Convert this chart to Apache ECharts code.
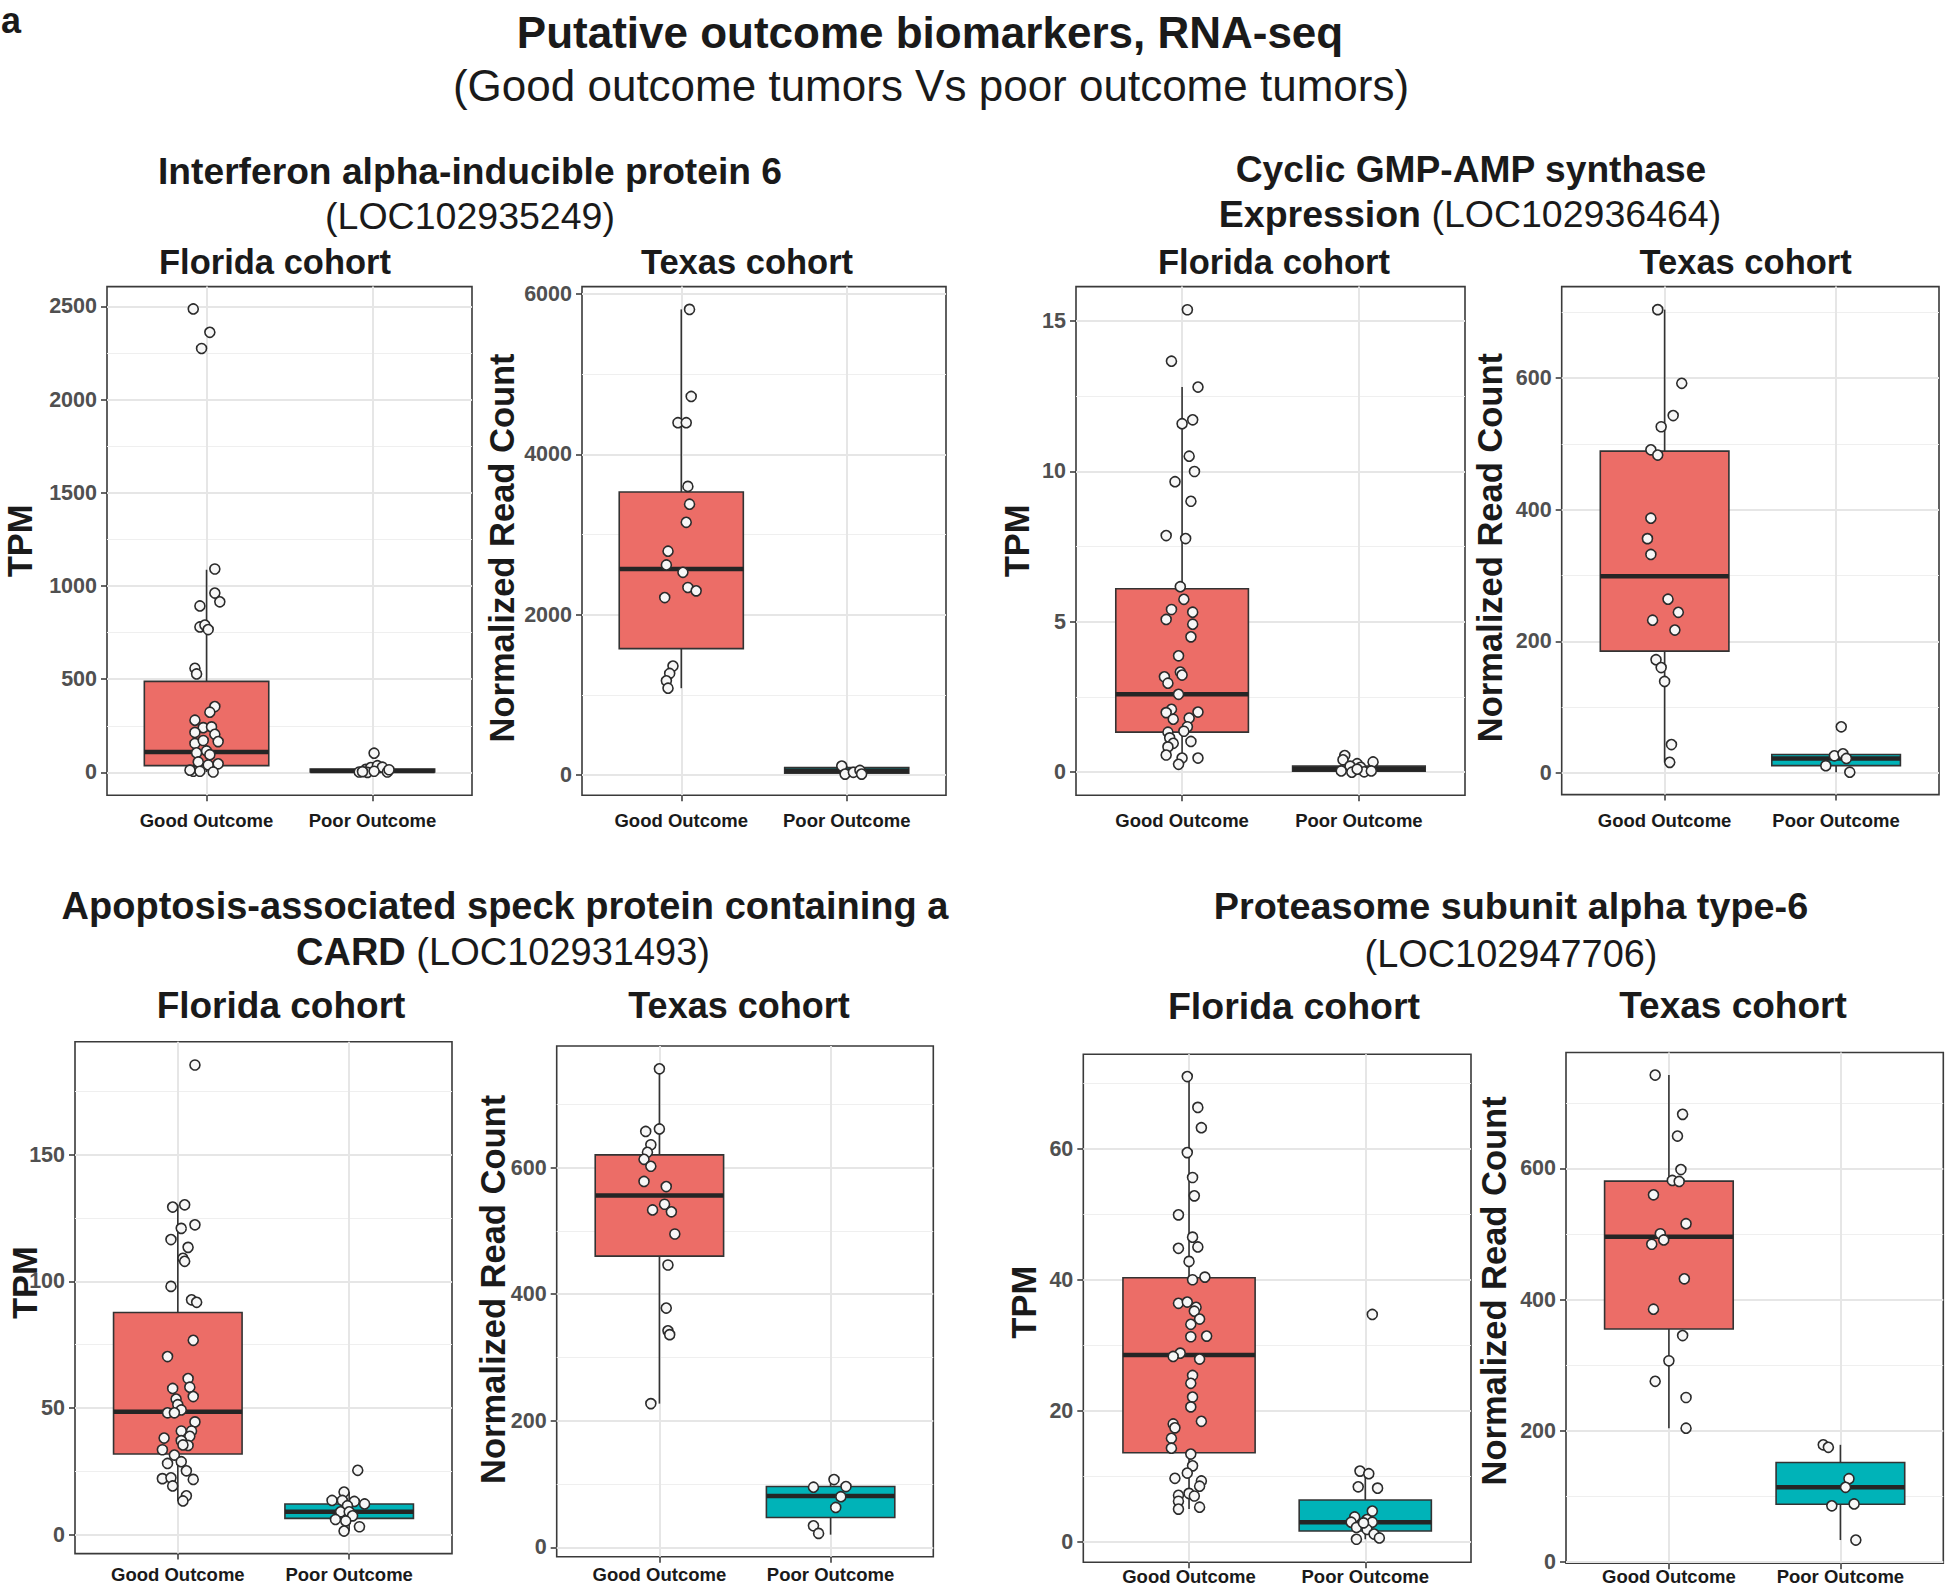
<!DOCTYPE html>
<html>
<head>
<meta charset="utf-8">
<title>Putative outcome biomarkers, RNA-seq</title>
<style>
  html, body { margin: 0; padding: 0; background: #fff; }
  #chart { width: 1946px; height: 1586px; }
</style>
</head>
<body>
<div id="chart"></div>
<script src="https://cdn.jsdelivr.net/npm/echarts@6/dist/echarts.min.js"></script>
<script>
var groups = ['Good Outcome', 'Poor Outcome'];

// Interferon alpha-inducible protein 6 (LOC102935249)
var ifi6FlGood = [[0.92,2486],[1.02,2361],[0.97,2274],[1.05,1091],[1.05,962],[1.08,915],[0.96,893],[0.96,780],[0.99,790],[1.01,766],[0.93,558],[0.94,528],[1.05,353],[1.02,323],[0.93,280],[0.98,240],[1.03,244],[0.93,214],[1.05,204],[1.07,165],[0.93,155],[0.98,171],[0.94,105],[1.00,115],[1.02,95],[0.95,56],[1.01,40],[1.07,46],[0.92,6],[0.96,6],[1.04,2],[0.90,12]];
var ifi6FlPoor = [[2.01,103],[1.96,16],[1.99,26],[2.03,36],[2.06,28],[1.92,2],[1.97,0],[2.09,2],[2.01,6],[2.10,14],[1.94,4]];
var ifi6FlBox = [[2,36,109,488,1087],[0,2,8,18,36]];
var ifi6TxGood = [[1.05,5806],[1.06,4721],[0.98,4394],[1.03,4394],[1.04,3600],[1.05,3378],[1.03,3152],[0.92,2792],[0.91,2621],[1.01,2529],[1.04,2340],[1.09,2298],[0.90,2215],[0.95,1361],[0.93,1269],[0.91,1177],[0.92,1085]];
var ifi6TxPoor = [[1.97,115],[1.99,14],[2.04,37],[2.08,60],[2.09,14]];
var ifi6TxBox = [[1085,1578,2571,3530,5806],[14,25,55,95,115]];

// Cyclic GMP-AMP synthase (LOC102936464)
var cgasFlGood = [[1.03,15.38],[0.94,13.67],[1.09,12.81],[1.06,11.72],[1.00,11.59],[1.04,10.51],[1.07,10.00],[0.96,9.66],[1.05,9.01],[0.91,7.87],[1.02,7.77],[0.99,6.17],[1.01,5.75],[0.94,5.41],[0.91,5.08],[1.06,5.32],[1.06,4.92],[1.05,4.50],[0.98,3.87],[0.99,3.33],[0.90,3.17],[1.00,3.23],[0.92,2.96],[0.98,2.59],[0.94,2.09],[0.91,1.98],[1.09,2.00],[0.95,1.76],[1.04,1.80],[1.03,1.51],[0.92,1.33],[1.01,1.36],[0.93,1.14],[1.05,1.02],[0.95,0.96],[0.92,0.84],[0.91,0.57],[1.00,0.47],[1.09,0.47],[0.98,0.26]];
var cgasFlPoor = [[1.92,0.55],[1.91,0.41],[1.99,0.28],[2.08,0.34],[1.95,0.20],[2.01,0.16],[1.90,0.04],[1.96,0.0],[2.03,0.01],[2.07,0.04],[1.99,0.10]];
var cgasFlBox = [[0.26,1.33,2.59,6.10,12.81],[0,0.03,0.1,0.2,0.41]];
var cgasTxGood = [[0.96,704],[1.10,592],[1.05,543],[0.98,526],[0.92,491],[0.96,483],[0.92,387],[0.90,356],[0.92,332],[1.02,264],[1.08,244],[0.93,232],[1.06,217],[0.95,172],[0.98,160],[1.00,139],[1.04,43],[1.03,16]];
var cgasTxPoor = [[2.03,70],[1.99,26],[2.04,29],[2.06,22],[1.94,11],[2.08,1]];
var cgasTxBox = [[16,185,299,489,704],[1,11,22,28,29]];

// Apoptosis-associated speck protein containing a CARD (LOC102931493)
var ascFlGood = [[1.10,185.4],[1.04,130.2],[0.97,129.3],[1.10,122.3],[1.02,120.9],[0.96,116.5],[1.06,113.4],[1.03,109.1],[1.04,107.9],[0.96,98.0],[1.08,92.7],[1.11,91.7],[1.09,76.7],[0.94,70.3],[1.06,61.6],[0.97,57.7],[1.07,58.2],[1.09,54.5],[0.99,53.5],[1.00,51.3],[1.02,49.2],[0.94,48.1],[0.98,48.1],[1.10,44.5],[1.02,40.9],[1.08,40.9],[1.07,38.8],[0.92,38.1],[1.02,37.1],[1.06,35.2],[1.03,35.4],[0.91,33.5],[0.98,31.4],[1.02,28.8],[0.94,28.1],[1.05,25.2],[0.91,22.1],[0.96,22.4],[1.09,21.8],[0.97,19.2],[1.05,15.3],[1.03,13.3]];
var ascFlPoor = [[2.05,25.4],[1.97,16.8],[1.90,13.5],[1.96,13.5],[2.03,13.1],[2.09,12.1],[1.99,11.4],[1.95,9.0],[2.00,9.0],[2.02,7.4],[1.92,6.0],[1.98,5.4],[2.06,3.1],[1.97,1.4]];
var ascFlBox = [[13.3,31.8,48.5,87.7,130.2],[1.4,6.4,9.0,12.1,16.8]];
var ascTxGood = [[1.00,756],[0.92,657],[1.00,661],[0.95,636],[0.93,624],[0.91,613],[0.95,602],[0.91,578],[1.04,570],[1.03,542],[0.96,533],[1.07,530],[1.09,495],[1.05,446],[1.04,378],[1.05,342],[1.06,336],[0.95,227]];
var ascTxPoor = [[2.02,107],[1.90,95],[2.09,96],[2.06,80],[2.03,63],[1.90,34],[1.93,22]];
var ascTxBox = [[227,460,556,620,756],[20,47,81,96,107]];

// Proteasome subunit alpha type-6 (LOC102947706)
var psmaFlGood = [[0.99,71.0],[1.05,66.3],[1.07,63.2],[0.99,59.4],[1.02,55.6],[1.03,52.8],[0.94,49.9],[1.02,46.5],[0.94,44.8],[1.05,45.0],[1.00,42.8],[1.02,40.0],[1.09,40.4],[0.94,36.4],[0.99,36.6],[1.04,35.8],[1.03,35.2],[1.06,34.0],[1.01,33.2],[1.01,31.3],[1.10,31.4],[0.95,28.8],[0.91,28.3],[1.06,27.9],[1.02,25.4],[1.01,24.2],[1.02,22.1],[1.01,20.6],[1.07,18.4],[0.91,18.0],[0.92,17.4],[0.90,15.8],[0.90,14.3],[1.01,13.4],[1.02,11.6],[0.99,10.5],[0.92,9.7],[1.07,9.3],[1.06,8.5],[0.94,7.1],[1.00,7.4],[1.03,7.0],[0.94,6.2],[1.06,5.3],[0.94,5.0]];
var psmaFlPoor = [[2.04,34.7],[1.97,10.8],[2.02,10.4],[1.96,8.4],[2.07,8.2],[2.04,4.7],[1.94,3.8],[1.92,3.0],[2.01,3.4],[2.04,3.0],[1.95,2.2],[2.01,1.9],[2.05,1.2],[1.95,0.4],[2.08,0.6],[1.99,2.9]];
var psmaFlBox = [[5.0,13.6,28.5,40.3,71.0],[0.4,1.65,3.0,6.4,10.8]];
var psmaTxGood = [[0.92,742.6],[1.08,682.6],[1.05,649.5],[1.07,598.4],[1.02,581.8],[1.06,580.2],[0.91,559.8],[1.10,515.8],[0.95,500.4],[0.97,491.0],[0.90,484.4],[1.09,431.6],[0.91,385.3],[1.08,345.1],[1.00,306.6],[0.92,275.2],[1.10,250.5],[1.10,203.7]];
var psmaTxPoor = [[1.90,178.3],[1.93,174.5],[2.05,126.6],[2.03,113.4],[1.95,85.3],[2.08,88.1],[2.09,33.0]];
var psmaTxBox = [[203.7,355,496,580.7,742.6],[33.0,87.5,113.4,151.4,178.3]];

// axis ticks (major labelled, minor only as light grid)
var ifi6FlTicks = [0,500,1000,1500,2000,2500], ifi6FlMinor = [250,750,1250,1750,2250];
var ifi6TxTicks = [0,2000,4000,6000], ifi6TxMinor = [1000,3000,5000];
var cgasFlTicks = [0,5,10,15], cgasFlMinor = [2.5,7.5,12.5];
var cgasTxTicks = [0,200,400,600], cgasTxMinor = [100,300,500,700];
var ascFlTicks = [0,50,100,150], ascFlMinor = [25,75,125,175];
var ascTxTicks = [0,200,400,600], ascTxMinor = [100,300,500,700];
var psmaFlTicks = [0,20,40,60], psmaFlMinor = [10,30,50,70];
var psmaTxTicks = [0,200,400,600], psmaTxMinor = [100,300,500,700];

var FONT = '"Liberation Sans", Arial, Helvetica, sans-serif';
var boxColors = ['#EC6D67', '#00B3B8'];

// namePad: [left, right] padding of the rotated y title, shifts it along the axis
var panels = [
  {good: ifi6FlGood, poor: ifi6FlPoor, box: ifi6FlBox, ticks: ifi6FlTicks, minor: ifi6FlMinor, yMin: -123, yMax: 2606, yName: 'TPM',
   left: 107, top: 286.6, width: 365, height: 508.7, nameGap: 70, namePad: [0, 0], xMargin: 16},
  {good: ifi6TxGood, poor: ifi6TxPoor, box: ifi6TxBox, ticks: ifi6TxTicks, minor: ifi6TxMinor, yMin: -250, yMax: 6090, yName: 'Normalized Read Count',
   left: 582, top: 286.6, width: 364, height: 508.7, nameGap: 63, namePad: [0, 14], xMargin: 16},
  {good: cgasFlGood, poor: cgasFlPoor, box: cgasFlBox, ticks: cgasFlTicks, minor: cgasFlMinor, yMin: -0.77, yMax: 16.15, yName: 'TPM',
   left: 1076, top: 286.6, width: 389, height: 508.7, nameGap: 42, namePad: [0, 0], xMargin: 16},
  {good: cgasTxGood, poor: cgasTxPoor, box: cgasTxBox, ticks: cgasTxTicks, minor: cgasTxMinor, yMin: -33, yMax: 739, yName: 'Normalized Read Count',
   left: 1561.7, top: 286.6, width: 377.3, height: 508, nameGap: 54, namePad: [0, 14], xMargin: 16},
  {good: ascFlGood, poor: ascFlPoor, box: ascFlBox, ticks: ascFlTicks, minor: ascFlMinor, yMin: -7.5, yMax: 194.6, yName: 'TPM',
   left: 75, top: 1041.7, width: 377, height: 511.9, nameGap: 33, namePad: [30, 0], xMargin: 11},
  {good: ascTxGood, poor: ascTxPoor, box: ascTxBox, ticks: ascTxTicks, minor: ascTxMinor, yMin: -15, yMax: 792, yName: 'Normalized Read Count',
   left: 556.7, top: 1046, width: 376.6, height: 510.8, nameGap: 46, namePad: [24, 0], xMargin: 8},
  {good: psmaFlGood, poor: psmaFlPoor, box: psmaFlBox, ticks: psmaFlTicks, minor: psmaFlMinor, yMin: -3.1, yMax: 74.4, yName: 'TPM',
   left: 1083.3, top: 1054.3, width: 387.7, height: 507.9, nameGap: 42, namePad: [12, 0], xMargin: 5},
  {good: psmaTxGood, poor: psmaTxPoor, box: psmaTxBox, ticks: psmaTxTicks, minor: psmaTxMinor, yMin: -2.5, yMax: 777, yName: 'Normalized Read Count',
   left: 1566, top: 1052.5, width: 377.3, height: 510.8, nameGap: 55, namePad: [34, 0], xMargin: 4}
];

function renderBox(params, api) {
  var x = api.value(0);
  var lo = api.coord([x, api.value(1)]);
  var q1 = api.coord([x, api.value(2)]);
  var md = api.coord([x, api.value(3)]);
  var q3 = api.coord([x, api.value(4)]);
  var hi = api.coord([x, api.value(5)]);
  var xl = api.coord([x - 0.375, 0])[0];
  var xr = api.coord([x + 0.375, 0])[0];
  var line = {stroke: '#333', lineWidth: 1.6};
  return {
    type: 'group',
    children: [
      {type: 'line', shape: {x1: lo[0], y1: lo[1], x2: q1[0], y2: q1[1]}, style: line},
      {type: 'line', shape: {x1: q3[0], y1: q3[1], x2: hi[0], y2: hi[1]}, style: line},
      {type: 'rect', shape: {x: xl, y: q3[1], width: xr - xl, height: q1[1] - q3[1]},
       style: {fill: boxColors[params.dataIndex], stroke: '#333', lineWidth: 1.6}},
      {type: 'line', shape: {x1: xl, y1: md[1], x2: xr, y2: md[1]}, style: {stroke: '#252525', lineWidth: 4.5}}
    ]
  };
}

var grids = [], xAxes = [], yAxes = [], series = [];
panels.forEach(function (p, i) {
  grids.push({left: p.left, top: p.top, width: p.width, height: p.height, show: true,
    outerBoundsMode: 'none', containLabel: false,
    backgroundColor: '#fff', borderColor: '#3a3a3a', borderWidth: 1.6});
  xAxes.push({
    gridIndex: i, type: 'value', min: 0.4, max: 2.6,
    axisLine: {show: false, onZero: false},
    axisTick: {show: true, length: 6, customValues: [1, 2], lineStyle: {color: '#333', width: 1.5}},
    axisLabel: {customValues: [1, 2], margin: p.xMargin, fontFamily: FONT, fontSize: 18.5, fontWeight: 'bold', color: '#1a1a1a',
      formatter: function (v) { return groups[Math.round(v) - 1]; }},
    splitLine: {show: false}
  });
  yAxes.push({
    gridIndex: i, type: 'value', min: p.yMin, max: p.yMax,
    axisLine: {show: false, onZero: false},
    axisTick: {show: true, length: 6, customValues: p.ticks, lineStyle: {color: '#333', width: 1.5}},
    axisLabel: {customValues: p.ticks, margin: 10, fontFamily: FONT, fontSize: 21.5, fontWeight: 'bold', color: '#505050',
      formatter: function (v) { return String(v); }},
    splitLine: {show: false},
    name: p.yName, nameLocation: 'middle', nameGap: p.nameGap, nameMoveOverlap: false,
    nameTextStyle: {fontFamily: FONT, fontSize: 34.5, fontWeight: 'bold', color: '#1a1a1a',
      padding: [0, p.namePad[1], 0, p.namePad[0]]}
  });
  var gridLines = [];
  p.ticks.forEach(function (v) { gridLines.push({yAxis: v, lineStyle: {color: '#E6E6E6', width: 2, type: 'solid'}}); });
  p.minor.forEach(function (v) { gridLines.push({yAxis: v, lineStyle: {color: '#EFEFEF', width: 1.2, type: 'solid'}}); });
  [1, 2].forEach(function (v) { gridLines.push({xAxis: v, lineStyle: {color: '#E6E6E6', width: 2, type: 'solid'}}); });
  series.push({
    type: 'custom', xAxisIndex: i, yAxisIndex: i, z: 3,
    renderItem: renderBox,
    dimensions: ['x', 'lo', 'q1', 'med', 'q3', 'hi'],
    encode: {x: 0, y: [1, 2, 3, 4, 5]},
    data: p.box.map(function (b, k) { return [k + 1].concat(b); })
  });
  series.push({
    type: 'scatter', xAxisIndex: i, yAxisIndex: i, z: 4,
    symbol: 'circle', symbolSize: 10,
    itemStyle: {color: '#f7f7f7', borderColor: '#2b2b2b', borderWidth: 1.6, opacity: 1},
    data: p.good.concat(p.poor),
    markLine: {silent: true, z: 1, symbol: ['none', 'none'], label: {show: false}, animation: false, data: gridLines}
  });
});

function txt(x, y, text, size, bold, align) {
  return {type: 'text', x: x, y: y, silent: true,
    style: {text: text, fontFamily: FONT, fontSize: size, fontWeight: bold ? 'bold' : 'normal',
      fill: '#1a1a1a', align: align || 'center', verticalAlign: 'middle'}};
}
function richTxt(x, y, boldPart, normPart, size) {
  return {type: 'text', x: x, y: y, silent: true,
    style: {text: '{b|' + boldPart + '}{n| ' + normPart + '}', align: 'center', verticalAlign: 'middle', fill: '#1a1a1a',
      rich: {b: {fontFamily: FONT, fontSize: size, fontWeight: 'bold', fill: '#1a1a1a'},
             n: {fontFamily: FONT, fontSize: size, fontWeight: 'normal', fill: '#1a1a1a'}}}};
}

var graphics = [
  txt(1, 20.5, 'a', 36, true, 'left'),
  txt(930, 32.5, 'Putative outcome biomarkers, RNA-seq', 44, true),
  txt(931, 85.5, '(Good outcome tumors Vs poor outcome tumors)', 44, false),
  txt(470, 171, 'Interferon alpha-inducible protein 6', 37.2, true),
  txt(470, 216, '(LOC102935249)', 37.5, false),
  txt(1471, 169, 'Cyclic GMP-AMP synthase', 37.2, true),
  richTxt(1470, 214, 'Expression', '(LOC102936464)', 37.5),
  txt(505, 906, 'Apoptosis-associated speck protein containing a', 38, true),
  richTxt(503, 952, 'CARD', '(LOC102931493)', 38),
  txt(1511, 906, 'Proteasome subunit alpha type-6', 37.8, true),
  txt(1511, 954, '(LOC102947706)', 37.9, false),
  txt(275, 261.7, 'Florida cohort', 34.5, true),
  txt(747, 261.7, 'Texas cohort', 34.5, true),
  txt(1274, 261.7, 'Florida cohort', 34.5, true),
  txt(1745.6, 261.7, 'Texas cohort', 34.5, true),
  txt(281, 1005.5, 'Florida cohort', 37, true),
  txt(739, 1005.5, 'Texas cohort', 36, true),
  txt(1294, 1005.5, 'Florida cohort', 37.5, true),
  txt(1733, 1005.5, 'Texas cohort', 37, true)
];

var chart = echarts.init(document.getElementById('chart'), null, {renderer: 'svg'});
chart.setOption({
  animation: false,
  backgroundColor: '#fff',
  textStyle: {fontFamily: FONT},
  grid: grids,
  xAxis: xAxes,
  yAxis: yAxes,
  series: series,
  graphic: graphics
});
</script>
</body>
</html>
